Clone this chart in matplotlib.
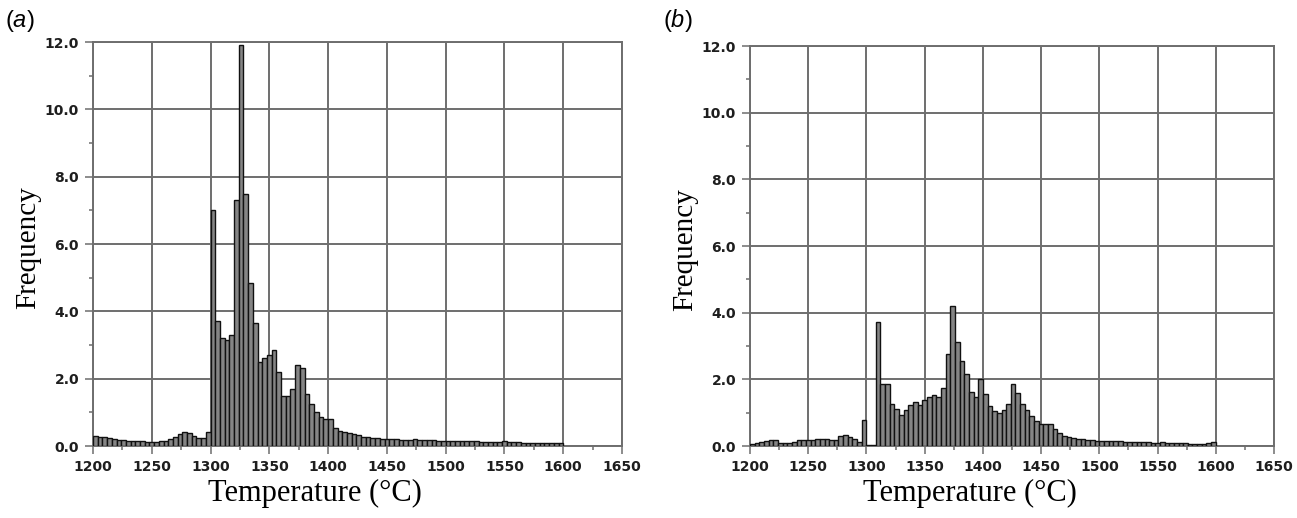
import numpy as np
import matplotlib.pyplot as plt
from matplotlib.ticker import MultipleLocator, FormatStrFormatter

plt.rcParams['mathtext.fontset'] = 'custom'
plt.rcParams['mathtext.it'] = 'Liberation Sans:italic'
plt.rcParams['mathtext.rm'] = 'Liberation Sans'

# 4 degC bins from 1200 to 1600
bin_width = 4
bin_left = np.arange(1200, 1600, bin_width)

freq_a = [0.30, 0.28, 0.26, 0.24, 0.21, 0.19, 0.17, 0.16, 0.15, 0.14,
          0.14, 0.13, 0.13, 0.13, 0.14, 0.15, 0.20, 0.27, 0.36, 0.41,
          0.40, 0.30, 0.24, 0.23, 0.42,
          7.0, 3.7, 3.2, 3.15, 3.3, 7.3, 11.9, 7.5, 4.85, 3.65,
          2.5, 2.6, 2.7, 2.85, 2.2, 1.5, 1.5, 1.68, 2.4, 2.33,
          1.55, 1.25, 1.0, 0.87, 0.8, 0.8, 0.52, 0.45, 0.42, 0.4,
          0.35, 0.33, 0.28, 0.26, 0.25,
          0.23, 0.22, 0.21, 0.20, 0.20, 0.19, 0.19, 0.18, 0.20, 0.19,
          0.18, 0.17, 0.17, 0.16, 0.16, 0.15, 0.15, 0.14, 0.14, 0.14,
          0.15, 0.14, 0.13, 0.13, 0.13, 0.13, 0.12, 0.14, 0.13, 0.12,
          0.11, 0.10, 0.10, 0.10, 0.09, 0.09, 0.09, 0.08, 0.08, 0.08]

freq_b = [0.07, 0.09, 0.12, 0.15, 0.17, 0.17, 0.10, 0.08, 0.08, 0.12,
          0.18, 0.18, 0.19, 0.19, 0.21, 0.22, 0.21, 0.19, 0.19, 0.30,
          0.32, 0.27, 0.20, 0.12, 0.79,
          0.03, 0.03, 3.72, 1.85, 1.85, 1.25, 1.12, 0.94, 1.07, 1.22,
          1.32, 1.24, 1.39, 1.47, 1.54, 1.47, 1.75, 2.75, 4.2, 3.13,
          2.55, 2.17, 1.62, 1.47, 2.02, 1.55, 1.19, 1.05, 1.0, 1.09,
          1.25, 1.85, 1.6, 1.27, 1.07, 0.89, 0.75, 0.67, 0.67, 0.67,
          0.52, 0.39, 0.31, 0.27, 0.24, 0.21, 0.20, 0.18, 0.17,
          0.16, 0.15, 0.15, 0.14, 0.14, 0.14, 0.13, 0.13, 0.12, 0.11,
          0.11, 0.11, 0.10, 0.10, 0.11, 0.10, 0.09, 0.08, 0.08, 0.08,
          0.07, 0.07, 0.07, 0.07, 0.08, 0.12]

panels = ['a', 'b']
grid_col = '#6e6e6e'

fig = plt.figure(figsize=(12.97, 5.18), dpi=100)
ax_a = fig.add_axes([93/1297, 72/518, 529/1297, 404/518])
ax_b = fig.add_axes([750/1297, 72/518, 524/1297, 400/518])

for ax, freq, name in zip([ax_a, ax_b], [freq_a, freq_b], panels):
    ax.bar(bin_left, freq, width=bin_width, align='edge',
           facecolor='#858585', edgecolor='#111111', linewidth=1.0, zorder=3)
    ax.set_xlim(1200, 1650)
    ax.set_ylim(0, 12)
    ax.xaxis.set_major_locator(MultipleLocator(50))
    ax.xaxis.set_minor_locator(MultipleLocator(25))
    ax.yaxis.set_major_locator(MultipleLocator(2))
    ax.yaxis.set_minor_locator(MultipleLocator(1))
    ax.yaxis.set_major_formatter(FormatStrFormatter('%.1f'))
    ax.grid(True, which='major', color=grid_col, linewidth=1.4, zorder=0)
    ax.set_axisbelow(True)
    for s in ax.spines.values():
        s.set_color(grid_col)
        s.set_linewidth(1.4)
    ax.tick_params(which='major', direction='out', length=6, width=1.1,
                   color=grid_col, pad=4)
    ax.tick_params(which='minor', direction='out', length=3, width=1.1,
                   color=grid_col)
    for lab in ax.get_xticklabels() + ax.get_yticklabels():
        lab.set_fontfamily('DejaVu Sans')
        lab.set_fontweight('bold')
        lab.set_fontsize(10)
        lab.set_color('#1e1e1e')
    ax.set_xlabel('Temperature (°C)', family='Liberation Serif', fontsize=22)
    ax.set_ylabel('Frequency', family='Liberation Serif', fontsize=21)
    w = ax.get_position().width * 1297
    h = ax.get_position().height * 518
    ax.xaxis.set_label_coords(0.42, -33 / h)
    ax.yaxis.set_label_coords(-52 / w, 0.49)

fig.text(5/1297, 1 - 21/518, r'($\mathit{a}$)', family='Liberation Sans',
         fontsize=17, va='center')
fig.text(663/1297, 1 - 21/518, r'($\mathit{b}$)', family='Liberation Sans',
         fontsize=17, va='center')

fig.savefig('out.png', dpi=100, facecolor='white')
